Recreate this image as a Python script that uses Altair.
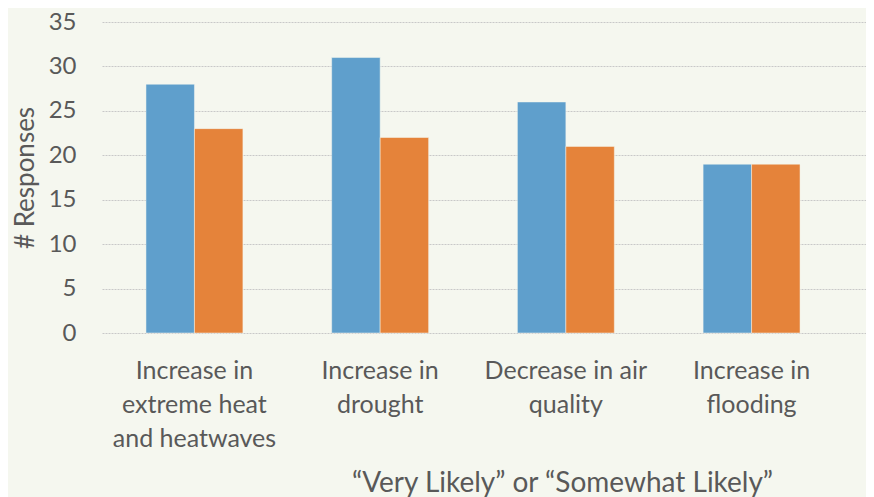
import altair as alt
import pandas as pd

categories = [
    "Increase in\nextreme heat\nand heatwaves",
    "Increase in\ndrought",
    "Decrease in air\nquality",
    "Increase in\nflooding",
]
series_names = ["Series 1", "Series 2"]
series1 = [28, 31, 26, 19]
series2 = [23, 22, 21, 19]

rows = []
for c, a, b in zip(categories, series1, series2):
    rows.append({"category": c, "series": series_names[0], "value": a})
    rows.append({"category": c, "series": series_names[1], "value": b})
df = pd.DataFrame(rows)

FONT = "Lato"
GRAY = "#595959"

chart = alt.Chart(df).mark_bar(stroke="#f5f7ef", strokeWidth=0.5).encode(
    x=alt.X(
        "category:N",
        sort=categories,
        scale=alt.Scale(paddingInner=0.478, paddingOuter=0.296, align=0.4),
        axis=alt.Axis(
            title="\u201cVery Likely\u201d or \u201cSomewhat Likely\u201d",
            labelExpr="split(datum.label, '\\n')",
            labelAngle=0,
            labelFont=FONT,
            labelFontSize=25,
            labelColor=GRAY,
            labelLineHeight=34,
            labelPadding=25,
            ticks=False,
            domain=False,
            titleFont=FONT,
            titleFontSize=28,
            titleFontWeight="normal",
            titleColor=GRAY,
            titlePadding=18,
            titleX=460,
            titleAnchor="middle",
        ),
    ),
    xOffset=alt.XOffset("series:N", sort=series_names),
    y=alt.Y(
        "value:Q",
        scale=alt.Scale(domain=[0, 35]),
        axis=alt.Axis(
            title="# Responses",
            values=[0, 5, 10, 15, 20, 25, 30, 35],
            labelFont=FONT,
            labelFontSize=24,
            labelColor=GRAY,
            labelPadding=26,
            ticks=False,
            domain=False,
            grid=True,
            gridColor="#c8c8c8",
            gridDash=[2, 1],
            gridWidth=1,
            titleFont=FONT,
            titleFontSize=26,
            titleFontWeight="normal",
            titleColor=GRAY,
            titlePadding=10,
        ),
    ),
    color=alt.Color(
        "series:N",
        sort=series_names,
        scale=alt.Scale(domain=series_names, range=["#5f9fcc", "#e5833a"]),
        legend=None,
    ),
).properties(
    width=764,
    height=311,
    background="#f5f7ef",
    autosize=alt.AutoSizeParams(type="none"),
    padding={"left": 94, "top": 14, "right": 0, "bottom": 164},
).configure_view(stroke=None)

chart.save("out.html", embed_options={"renderer": "svg", "actions": False})
